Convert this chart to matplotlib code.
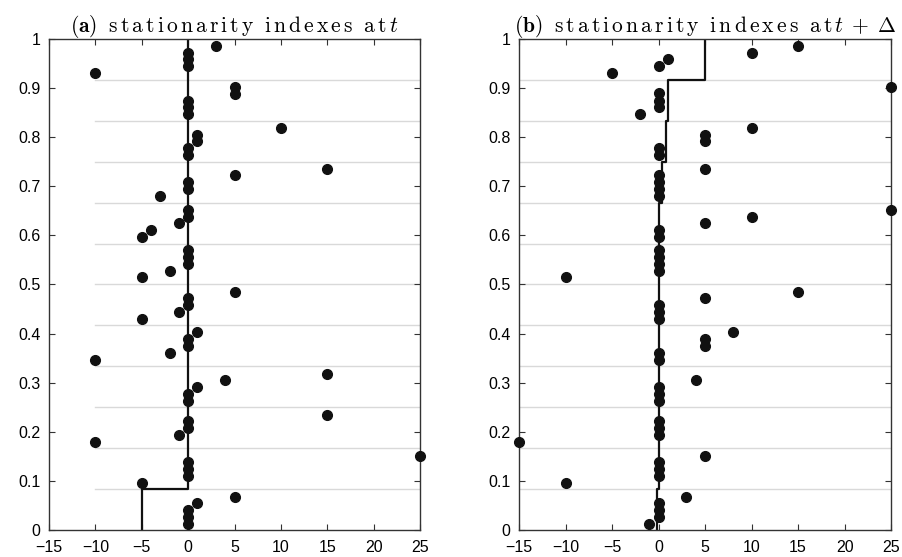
import numpy as np
import matplotlib
matplotlib.use("Agg")
import matplotlib.pyplot as plt
from matplotlib.ticker import FormatStrFormatter

plt.rcParams['font.family'] = ['Liberation Sans', 'DejaVu Sans']
plt.rcParams['mathtext.fontset'] = 'cm'
plt.rcParams['axes.unicode_minus'] = True

# panel (a): stationarity indexes at t
a_x = [3, -10, 0, 0, 0, 5, 5, 0, 0, 0, 10, 1, 1, 0, 0, 15, 5, 0, 0, -3,
       0, 0, -1, -4, -5, 0, 0, 0, -2, -5,
       5, 0, 0, -1, -5, 1, 0, 0, -2, -10, 15, 4, 1, 0, 0, 15, 0, 0, -1, -10,
       25, 0, 0, 0, -5, 5, 1, 0, 0, 0]
a_y = [0.986, 0.931, 0.972, 0.959, 0.945, 0.903, 0.888, 0.874, 0.861, 0.847,
       0.819, 0.805, 0.792, 0.778, 0.764, 0.736, 0.722, 0.708, 0.694, 0.680,
       0.652, 0.638, 0.625, 0.611, 0.597, 0.570, 0.555, 0.542, 0.527, 0.515,
       0.485, 0.472, 0.458, 0.443, 0.430, 0.403, 0.388, 0.374, 0.360, 0.346,
       0.318, 0.305, 0.291, 0.277, 0.263, 0.235, 0.221, 0.207, 0.193, 0.179,
       0.151, 0.138, 0.124, 0.110, 0.096, 0.068, 0.054, 0.041, 0.026, 0.012]

# panel (b): stationarity indexes at t + delta
b_x = [15, 10, 1, 0, -5, 25, 0, 0, 0, -2, 10, 5, 5, 0, 0, 5, 0, 0, 0, 0,
       25, 10, 5, 0, 0, 0, 0, 0, 0, -10,
       15, 5, 0, 0, 0, 8, 5, 5, 0, 0, 4, 0, 0, 0, 0, 0, 0, -15, 5,
       0, 0, 0, -10, 3, 0, 0, 0, -1]
b_y = [0.986, 0.972, 0.959, 0.944, 0.931, 0.902, 0.889, 0.874, 0.861, 0.847,
       0.819, 0.805, 0.792, 0.778, 0.764, 0.736, 0.722, 0.708, 0.694, 0.680,
       0.652, 0.638, 0.625, 0.611, 0.597, 0.570, 0.555, 0.542, 0.527, 0.515,
       0.485, 0.472, 0.458, 0.443, 0.430, 0.403, 0.388, 0.374, 0.360, 0.346,
       0.305, 0.291, 0.277, 0.263, 0.221, 0.207, 0.193, 0.179, 0.151,
       0.138, 0.124, 0.110, 0.096, 0.068, 0.054, 0.041, 0.026, 0.012]

# step curves: x value on each 1/12 band of y
a_step = [-5, 0, 0, 0, 0, 0, 0, 0, 0, 0, 0, 0]
b_step = [-0.2, 0, 0, 0, 0, 0, 0, 0, 0.35, 0.8, 1.0, 5]

xticks = [-15, -10, -5, 0, 5, 10, 15, 20, 25]
yticks = [0, 0.1, 0.2, 0.3, 0.4, 0.5, 0.6, 0.7, 0.8, 0.9, 1]


def step_xy(vals):
    n = len(vals)
    xs, ys = [], []
    for i, v in enumerate(vals):
        xs += [v, v]
        ys += [i / n, (i + 1) / n]
    return xs, ys


def spaced(text):
    # letter-spaced roman text in mathtext, like the original typesetting
    words = [r'\,'.join(w) for w in text.split()]
    return r'\mathrm{' + r'\ \;'.join(words) + '}'


def draw_panel(ax, x, y, step, title, grid_from):
    n = len(step)
    for k in range(1, n):
        ax.plot([grid_from, 25], [k / n, k / n], color='#d9d9d9', lw=1.0, zorder=1)
    sx, sy = step_xy(step)
    ax.plot(sx, sy, color='#111111', lw=1.6, zorder=2)
    ax.plot(x, y, 'o', color='#111111', ms=7, clip_on=False, zorder=3)
    ax.set_xlim(-15, 25)
    ax.set_ylim(0, 1)
    ax.set_xticks(xticks)
    ax.set_yticks(yticks)
    ax.yaxis.set_major_formatter(FormatStrFormatter('%g'))
    ax.tick_params(direction='in', top=True, right=True, length=4,
                   labelsize=11.5, color='#333333')
    ax.tick_params(axis='x', pad=7)
    ax.tick_params(axis='y', pad=6)
    for s in ax.spines.values():
        s.set_color('#333333')
        s.set_linewidth(1.0)
    ax.set_title(title, fontsize=15.5, pad=5)


fig = plt.figure(figsize=(9.03, 5.57), dpi=100)
ax1 = fig.add_axes([0.0543, 0.0485, 0.4108, 0.8815])
ax2 = fig.add_axes([0.5748, 0.0485, 0.4120, 0.8815])

draw_panel(ax1, a_x, a_y, a_step,
           r'$\mathbf{(a)}\ \;' + spaced('stationarity indexes at') + r'\,t$', -10)
draw_panel(ax2, b_x, b_y, b_step,
           r'$\mathbf{(b)}\ \;' + spaced('stationarity indexes at') + r'\,t\;+\;\Delta$', -15)

fig.savefig('out.png', dpi=100)
